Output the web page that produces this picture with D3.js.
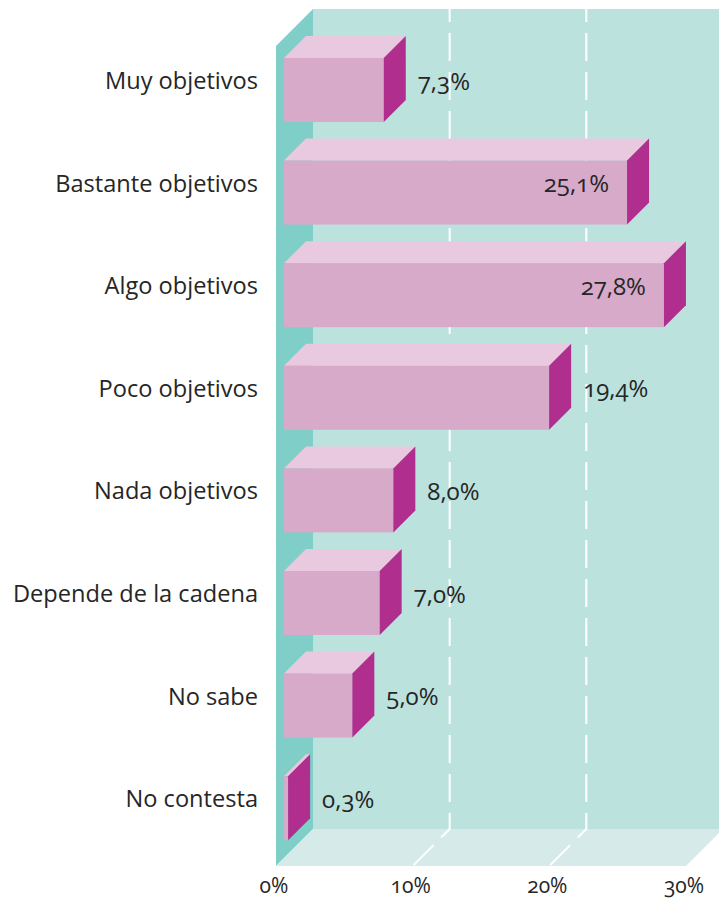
<!DOCTYPE html>
<html lang="es">
<head>
    <meta charset="UTF-8">
    <title>Objetividad de las cadenas</title>
    <script src="https://d3js.org/d3.v7.min.js"></script>
    <style>
        body { margin: 0; background: #fff; }
        svg { display: block; }
        text { font-family: "Open Sans", "Noto Sans", sans-serif; fill: #262626; }
        .cat { font-size: 23.6px; }
        .val { font-size: 24px; font-variant-numeric: oldstyle-nums; }
        .tick { font-size: 21px; font-variant-numeric: oldstyle-nums; }
    </style>
</head>
<body>
    <div id="chart"></div>

    <script>
        // Data
        const categories = ["Muy objetivos", "Bastante objetivos", "Algo objetivos", "Poco objetivos",
            "Nada objetivos", "Depende de la cadena", "No sabe", "No contesta"];
        const values = [7.3, 25.1, 27.8, 19.4, 8.0, 7.0, 5.0, 0.3];
        const valueLabels = ["7,3%", "25,1%", "27,8%", "19,4%", "8,0%", "7,0%", "5,0%", "0,3%"];
        const ticks = [0, 10, 20, 30];
        const tickLabels = ["0%", "10%", "20%", "30%"];

        const width = 719, height = 900;
        const depth = 37;      // wall depth
        const barDepth = 22;   // bar depth
        const barShift = 8;    // bars sit a little in front of the axis
        const wallTop = 9, floorY = 866;

        const x = d3.scaleLinear().domain([0, 30]).range([276, 686]);
        const y = d3.scaleBand()
            .domain(categories)
            .range([27.7, 848.5])
            .paddingInner(0.162)
            .paddingOuter(0.081);

        const svg = d3.select("#chart").append("svg")
            .attr("width", width)
            .attr("height", height);

        // back wall
        svg.append("rect")
            .attr("x", x(0) + depth)
            .attr("y", wallTop)
            .attr("width", x(30) - x(0))
            .attr("height", floorY - depth - wallTop)
            .attr("fill", "#bce2de");

        // left wall
        svg.append("polygon")
            .attr("points", [
                [x(0), wallTop + depth], [x(0) + depth, wallTop],
                [x(0) + depth, floorY - depth], [x(0), floorY]
            ].join(" "))
            .attr("fill", "#80cec8");

        // floor
        svg.append("polygon")
            .attr("points", [
                [x(0), floorY], [x(0) + depth, floorY - depth],
                [x(30) + depth, floorY - depth], [x(30), floorY]
            ].join(" "))
            .attr("fill", "#d6ebe9");

        // dashed grid lines (wall + floor)
        svg.selectAll(".grid")
            .data(ticks.filter(t => t > 0 && t < 30))
            .enter()
            .append("path")
            .attr("class", "grid")
            .attr("d", t => `M${x(t) + depth},${wallTop}V${floorY - depth}L${x(t)},${floorY}`)
            .attr("fill", "none")
            .attr("stroke", "#fff")
            .attr("stroke-width", 2)
            .attr("stroke-dasharray", "28,11")
            .attr("stroke-dashoffset", 15);

        // bars
        const bars = svg.selectAll(".bar")
            .data(categories)
            .enter()
            .append("g")
            .attr("class", "bar");

        const x0 = x(0) + barShift;
        const front = (d, i) => ({
            l: x0,
            r: x(values[i]) + barShift,
            t: y(d) + barDepth,
            b: y(d) + y.bandwidth()
        });

        // top face
        bars.append("polygon")
            .attr("points", (d, i) => {
                const f = front(d, i);
                return [[f.l, f.t], [f.l + barDepth, f.t - barDepth], [f.r + barDepth, f.t - barDepth], [f.r, f.t]].join(" ");
            })
            .attr("fill", "#e8c9df");

        // front face
        bars.append("rect")
            .attr("x", (d, i) => front(d, i).l)
            .attr("y", (d, i) => front(d, i).t)
            .attr("width", (d, i) => front(d, i).r - front(d, i).l)
            .attr("height", (d, i) => front(d, i).b - front(d, i).t)
            .attr("fill", "#d8aac9");

        // side face
        bars.append("polygon")
            .attr("points", (d, i) => {
                const f = front(d, i);
                return [[f.r, f.t], [f.r + barDepth, f.t - barDepth], [f.r + barDepth, f.b - barDepth], [f.r, f.b]].join(" ");
            })
            .attr("fill", "#b02e8e");

        // category labels
        svg.selectAll(".cat")
            .data(categories)
            .enter()
            .append("text")
            .attr("class", "cat")
            .attr("x", 258)
            .attr("y", d => y(d) + y.bandwidth() / 2 + 1)
            .attr("text-anchor", "end")
            .attr("dominant-baseline", "central")
            .text(d => d);

        // value labels
        svg.selectAll(".val")
            .data(categories)
            .enter()
            .append("text")
            .attr("class", "val")
            .attr("x", (d, i) => values[i] > 24
                ? x(values[i]) + barShift - 18
                : x(values[i]) + barShift + barDepth + 12)
            .attr("y", d => y(d) + y.bandwidth() / 2 + 1)
            .attr("text-anchor", (d, i) => values[i] > 24 ? "end" : "start")
            .attr("dominant-baseline", "central")
            .text((d, i) => valueLabels[i]);

        // x axis labels
        svg.selectAll(".tick")
            .data(ticks)
            .enter()
            .append("text")
            .attr("class", "tick")
            .attr("x", t => x(t) - 2)
            .attr("y", 885)
            .attr("text-anchor", "middle")
            .attr("dominant-baseline", "central")
            .text((t, i) => tickLabels[i]);
    </script>
</body>
</html>
